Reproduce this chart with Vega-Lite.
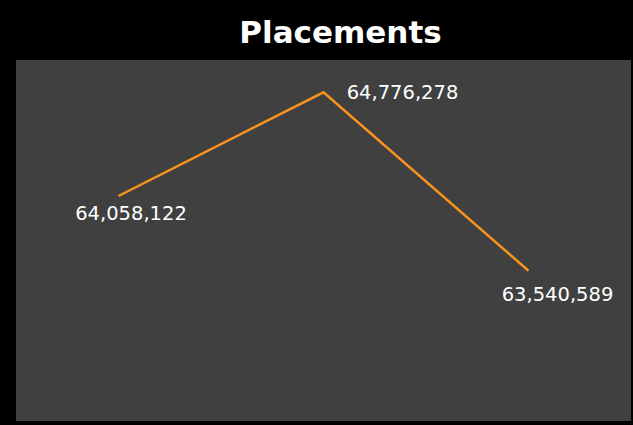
{
  "$schema": "https://vega.github.io/schema/vega-lite/v6.json",
  "width": 615,
  "height": 361,
  "autosize": {"type": "none"},
  "padding": {"left": 16, "top": 60, "right": 2, "bottom": 4},
  "background": "#000000",
  "title": {
    "text": "Placements",
    "font": "DejaVu Sans",
    "fontWeight": "bold",
    "fontSize": 31,
    "color": "#ffffff",
    "anchor": "middle",
    "baseline": "alphabetic",
    "offset": -14,
    "dx": 17
  },
  "config": {
    "view": {"fill": "#404040", "stroke": null}
  },
  "data": {
    "values": [
      {"period": "P1", "value": 64058122},
      {"period": "P2", "value": 64776278},
      {"period": "P3", "value": 63540589}
    ]
  },
  "encoding": {
    "x": {"field": "period", "type": "ordinal", "scale": {"type": "point", "padding": 0.5}, "axis": null},
    "y": {"field": "value", "type": "quantitative", "scale": {"domain": [62500000, 65000000], "zero": false, "nice": false}, "axis": null}
  },
  "layer": [
    {"mark": {"type": "line", "color": "#F7941E", "strokeWidth": 2.5}},
    {
      "transform": [{"filter": "datum.period === 'P1'"}],
      "mark": {"type": "text", "font": "DejaVu Sans", "fontWeight": "normal", "fontSize": 19.5, "color": "#ffffff", "align": "center", "baseline": "middle", "dx": 12.5, "dy": 17.5},
      "encoding": {"text": {"field": "value", "type": "quantitative", "format": ","}}
    },
    {
      "transform": [{"filter": "datum.period === 'P2'"}],
      "mark": {"type": "text", "font": "DejaVu Sans", "fontWeight": "normal", "fontSize": 19.5, "color": "#ffffff", "align": "center", "baseline": "middle", "dx": 79, "dy": 0.5},
      "encoding": {"text": {"field": "value", "type": "quantitative", "format": ","}}
    },
    {
      "transform": [{"filter": "datum.period === 'P3'"}],
      "mark": {"type": "text", "font": "DejaVu Sans", "fontWeight": "normal", "fontSize": 19.5, "color": "#ffffff", "align": "center", "baseline": "middle", "dx": 29, "dy": 24},
      "encoding": {"text": {"field": "value", "type": "quantitative", "format": ","}}
    }
  ]
}
